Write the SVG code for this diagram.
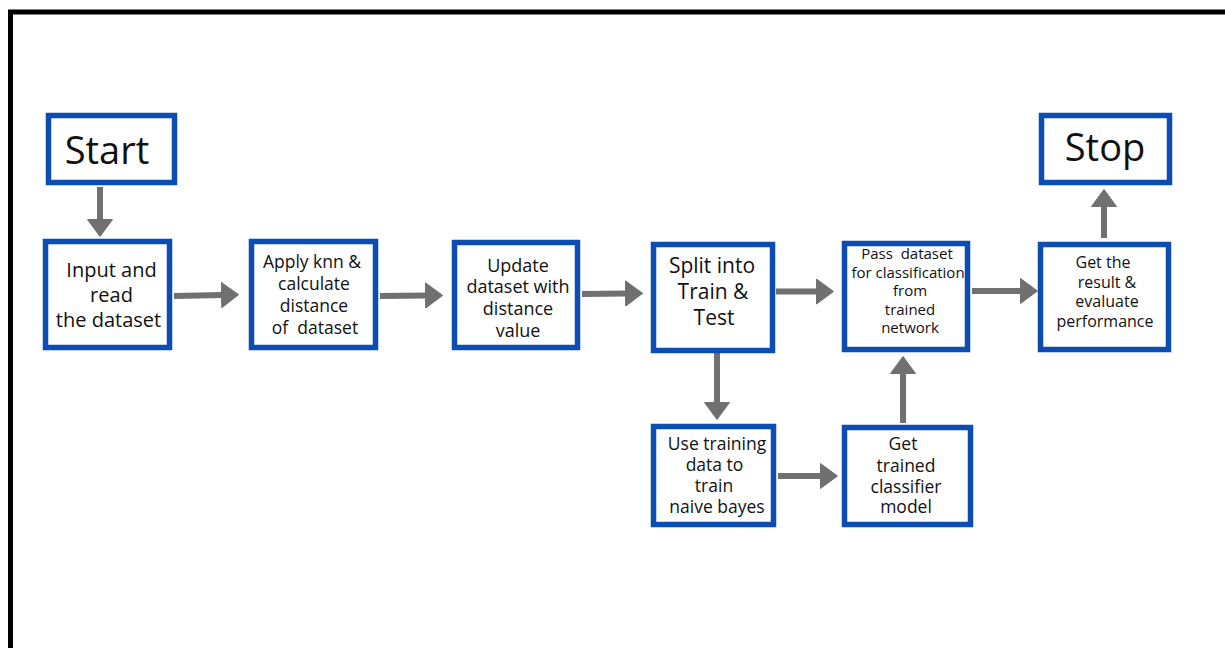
<svg xmlns="http://www.w3.org/2000/svg" width="1225" height="648" viewBox="0 0 1225 648">
  <style>
    .box { fill: #ffffff; stroke: #0b4db3; stroke-width: 5.5; }
    .lbl { font-family: "Open Sans", "Noto Sans", "Liberation Sans", sans-serif; fill: #111111; text-anchor: middle; }
    .big { font-size: 38px; }
    .conn line { stroke: #707070; stroke-width: 6; marker-end: url(#head); }
  </style>
  <defs>
    <marker id="head" markerUnits="userSpaceOnUse" markerWidth="18" markerHeight="26" viewBox="0 0 18 26" refX="1" refY="13" orient="auto">
      <path d="M0.5,0.5 L17.5,13 L0.5,25.5 Z" fill="#707070" stroke="#707070" stroke-width="1" stroke-linejoin="round"/>
    </marker>
  </defs>

  <rect width="1225" height="648" fill="#ffffff"/>
  <!-- outer frame -->
  <path d="M10.5,648 L10.5,12 L1225,12" fill="none" stroke="#000000" stroke-width="5"/>

  <g id="connectors" class="conn">
    <line x1="100" y1="187" x2="100" y2="220"/>
    <line x1="174" y1="296" x2="222" y2="295"/>
    <line x1="380" y1="296" x2="426" y2="295.5"/>
    <line x1="582" y1="294" x2="626" y2="293.5"/>
    <line x1="776" y1="291.5" x2="817" y2="291.5"/>
    <line x1="972" y1="291" x2="1021" y2="291"/>
    <line x1="1104" y1="238" x2="1104" y2="206"/>
    <line x1="717" y1="352" x2="717" y2="403"/>
    <line x1="778" y1="476" x2="821" y2="476"/>
    <line x1="903" y1="423" x2="903" y2="373"/>
  </g>

  <g id="start">
    <rect class="box" x="48.5" y="115.5" width="126" height="67"/>
    <text class="lbl big" x="107" y="164">Start</text>
  </g>

  <g id="stop">
    <rect class="box" x="1041.5" y="115.5" width="128" height="67"/>
    <text class="lbl big" x="1105" y="161">Stop</text>
  </g>

  <g id="input" class="lbl" font-size="20">
    <rect class="box" x="45.5" y="241.5" width="124" height="106"/>
    <text x="111.5" y="277">Input and</text>
    <text x="111.5" y="302">read</text>
    <text x="108.5" y="327">the dataset</text>
  </g>

  <g id="knn" class="lbl" font-size="17.5">
    <rect class="box" x="251.5" y="241.5" width="124" height="106"/>
    <text x="312" y="268">Apply knn &amp;</text>
    <text x="314" y="290">calculate</text>
    <text x="314" y="312">distance</text>
    <text x="315" y="334" xml:space="preserve">of  dataset</text>
  </g>

  <g id="update" class="lbl" font-size="18">
    <rect class="box" x="454.5" y="242.5" width="123" height="105"/>
    <text x="518" y="272">Update</text>
    <text x="518" y="293">dataset with</text>
    <text x="518" y="315">distance</text>
    <text x="518" y="337">value</text>
  </g>

  <g id="split" class="lbl" font-size="21">
    <rect class="box" x="653.5" y="244.5" width="119" height="106"/>
    <text x="712" y="273">Split into</text>
    <text x="713" y="299">Train &amp;</text>
    <text x="714" y="325">Test</text>
  </g>

  <g id="classify" class="lbl" font-size="15">
    <rect class="box" x="844.5" y="243.5" width="123" height="106"/>
    <text x="907" y="259" xml:space="preserve">Pass  dataset</text>
    <text x="908" y="278">for classification</text>
    <text x="910" y="296">from</text>
    <text x="910" y="315">trained</text>
    <text x="910" y="333">network</text>
  </g>

  <g id="evaluate" class="lbl" font-size="16">
    <rect class="box" x="1040.5" y="244.5" width="128" height="105"/>
    <text x="1103" y="268">Get the</text>
    <text x="1107" y="288">result &amp;</text>
    <text x="1107" y="307">evaluate</text>
    <text x="1105" y="327">performance</text>
  </g>

  <g id="train" class="lbl" font-size="17.5">
    <rect class="box" x="653.5" y="426.5" width="120" height="98"/>
    <text x="717" y="450">Use training</text>
    <text x="714.5" y="471">data to</text>
    <text x="714" y="492">train</text>
    <text x="717" y="513">naive bayes</text>
  </g>

  <g id="model" class="lbl" font-size="17.5">
    <rect class="box" x="844.5" y="427.5" width="126" height="97"/>
    <text x="903" y="450">Get</text>
    <text x="906" y="472">trained</text>
    <text x="906" y="493">classifier</text>
    <text x="906" y="513">model</text>
  </g>
</svg>
